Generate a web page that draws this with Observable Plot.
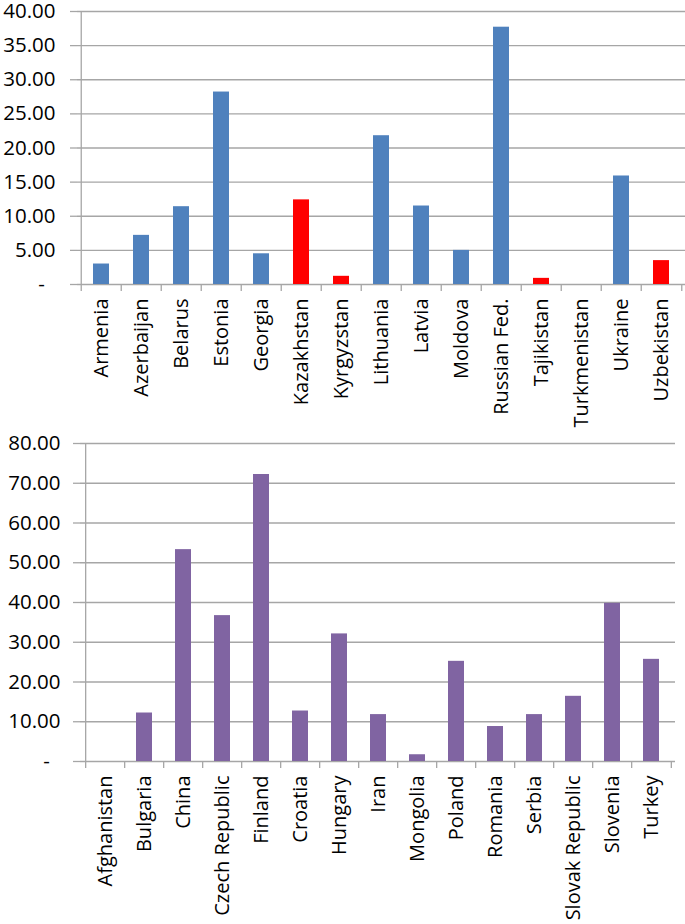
<!DOCTYPE html>
<html>
<head>
<meta charset="utf-8">
<script src="https://cdn.jsdelivr.net/npm/d3@7"></script>
<script src="https://cdn.jsdelivr.net/npm/@observablehq/plot@0.6"></script>
<style>
  html, body { margin: 0; padding: 0; background: #fff; overflow: hidden; }
  svg { display: block; overflow: visible; }
</style>
</head>
<body>
<div id="chart"></div>
<script>
// ---- Data (top chart: former Soviet countries) ----
const topCountries = ["Armenia", "Azerbaijan", "Belarus", "Estonia", "Georgia", "Kazakhstan", "Kyrgyzstan", "Lithuania", "Latvia", "Moldova", "Russian Fed.", "Tajikistan", "Turkmenistan", "Ukraine", "Uzbekistan"];
const topValues = [3.0, 7.2, 11.4, 28.2, 4.5, 12.4, 1.2, 21.8, 11.5, 5.0, 37.7, 0.9, 0, 15.9, 3.5];
const topHighlighted = ["Kazakhstan", "Kyrgyzstan", "Tajikistan", "Uzbekistan"];
const topTicks = [0, 5, 10, 15, 20, 25, 30, 35, 40];

// ---- Data (bottom chart) ----
const bottomCountries = ["Afghanistan", "Bulgaria", "China", "Czech Republic", "Finland", "Croatia", "Hungary", "Iran", "Mongolia", "Poland", "Romania", "Serbia", "Slovak Republic", "Slovenia", "Turkey"];
const bottomValues = [0, 12.2, 53.3, 36.7, 72.2, 12.7, 32.1, 11.8, 1.7, 25.2, 8.8, 11.8, 16.4, 39.8, 25.7];
const bottomTicks = [0, 10, 20, 30, 40, 50, 60, 70, 80];

const BLUE = "#4F81BD", RED = "#FF0000", PURPLE = "#8064A2", GRID = "#A6A6A6";
const fmt = d => d === 0 ? "-\u00a0\u00a0" : d.toFixed(2);

function makeChart({countries, values, colorOf, ticks, yMax, width, height, marginTop, marginBottom, marginLeft, marginRight, yPad}) {
  const data = countries.map((c, i) => ({country: c, value: values[i]}));
  const step = (width - marginLeft - marginRight) / countries.length;
  return Plot.plot({
    width, height, marginTop, marginBottom, marginLeft, marginRight,
    style: {fontFamily: "'Open Sans', sans-serif", fontSize: "20px", color: "#000", background: "transparent", overflow: "visible"},
    x: {domain: countries, paddingInner: 0.6, paddingOuter: 0.3, label: null},
    y: {domain: [0, yMax], label: null},
    marks: [
      Plot.gridY(ticks, {stroke: GRID, strokeOpacity: 1, strokeWidth: 1.3}),
      Plot.ruleX([countries[0]], {x: d => d, dx: -step / 2, stroke: GRID, strokeWidth: 1.3}),
      Plot.axisY(ticks, {tickSize: 7, tickPadding: yPad, stroke: GRID, strokeWidth: 1.3, tickFormat: fmt, fontSize: 20.5, label: null}),
      Plot.barY(data, {x: "country", y: "value", fill: d => colorOf(d.country)}),
      Plot.axisX(countries, {tickSize: 7, text: null, dx: -step / 2, stroke: GRID, strokeWidth: 1.3, label: null}),
      Plot.axisX([countries[countries.length - 1]], {tickSize: 7, text: null, dx: step / 2, stroke: GRID, strokeWidth: 1.3, label: null}),
      Plot.axisX(countries, {tickSize: 0, tickPadding: 14, tickRotate: -90, fontSize: 20, label: null})
    ]
  });
}

const topChart = makeChart({
  countries: topCountries, values: topValues,
  colorOf: c => topHighlighted.includes(c) ? RED : BLUE,
  ticks: topTicks, yMax: 40,
  width: 685, height: 432, marginTop: 11, marginBottom: 148, marginLeft: 77, marginRight: 0, yPad: 15
});
const bottomChart = makeChart({
  countries: bottomCountries, values: bottomValues,
  colorOf: () => PURPLE,
  ticks: bottomTicks, yMax: 80,
  width: 685, height: 492, marginTop: 11, marginBottom: 163, marginLeft: 80, marginRight: 10, yPad: 13
});
document.getElementById("chart").append(topChart, bottomChart);
</script>
</body>
</html>
